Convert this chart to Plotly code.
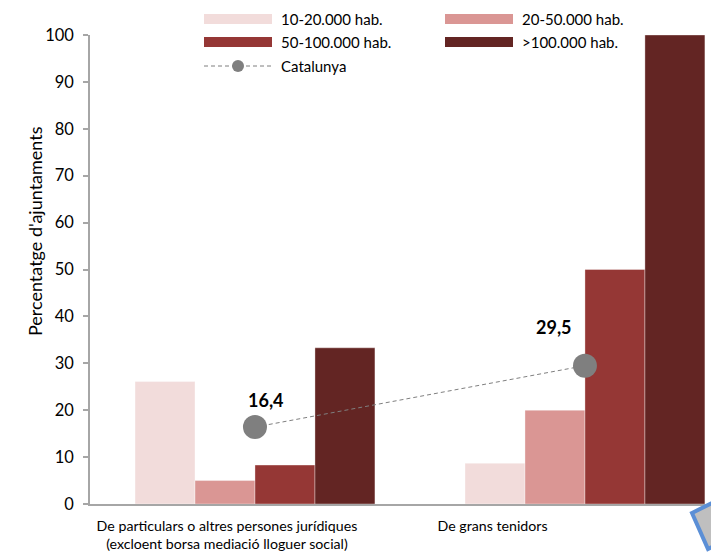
import plotly.graph_objects as go

categories = ["De particulars o altres persones jurídiques<br>(excloent borsa mediació lloguer social)",
              "De grans tenidors"]
series_names = ["10-20.000 hab.", "20-50.000 hab.", "50-100.000 hab.", ">100.000 hab."]
series_values = [
    [26.1, 8.7],
    [5.0, 20.0],
    [8.3, 50.0],
    [33.3, 100.0],
]
colors = ["#F2DCDB", "#DA9694", "#953735", "#632523"]
catalunya = [16.4, 29.5]
catalunya_labels = ["16,4", "29,5"]

FONT = "Lato"
W, H = 711, 560
ML, MR, MT, MB = 90, 0, 35, 56
PW, PH = W - ML - MR, H - MT - MB

def px(p):
    return (p - ML) / PW

def py(p):
    return (H - MB - p) / PH

xpos = list(range(len(categories)))

fig = go.Figure()
for name, vals, col in zip(series_names, series_values, colors):
    fig.add_trace(go.Bar(
        x=xpos, y=vals, name=name,
        marker=dict(color=col, line=dict(color="rgba(255,255,255,0.35)", width=1)),
        showlegend=False,
    ))

fig.add_trace(go.Scatter(
    x=xpos, y=catalunya, name="Catalunya", mode="lines+markers",
    line=dict(color="#7F7F7F", width=1, dash="4px,3px"),
    marker=dict(color="#7F7F7F", size=24),
    showlegend=False,
))

annotations = []
label_shift = [(11, 27), (-31, 39)]
for xi, v, t, (dx, dy) in zip(xpos, catalunya, catalunya_labels, label_shift):
    annotations.append(dict(x=xi, y=v, xref="x", yref="y", text="<b>%s</b>" % t,
                            showarrow=False, xshift=dx, yshift=dy,
                            font=dict(family=FONT, size=18, color="#000000")))

# y-axis title
annotations.append(dict(x=px(22), y=py(231), xref="paper", yref="paper",
                        text="Percentatge d'ajuntaments", textangle=-90, showarrow=False,
                        font=dict(family=FONT, size=18, color="#000000")))

# custom legend
shapes = []
legend_rows = [(19, 0), (19, 1), (42, 0), (42, 1)]
for (ry, col_i), name, col in zip(legend_rows, series_names, colors):
    x0 = 204 if col_i == 0 else 445
    shapes.append(dict(type="rect", xref="paper", yref="paper",
                       x0=px(x0), x1=px(x0 + 68), y0=py(ry - 5), y1=py(ry + 5),
                       fillcolor=col, line=dict(width=0)))
    annotations.append(dict(x=px(x0 + 75), y=py(ry), xref="paper", yref="paper",
                            text=name, showarrow=False, xanchor="left", yanchor="middle",
                            font=dict(family=FONT, size=15, color="#000000")))
shapes.append(dict(type="line", xref="paper", yref="paper",
                   x0=px(204), x1=px(272), y0=py(66), y1=py(66),
                   line=dict(color="#7F7F7F", width=1, dash="4px,3px")))
shapes.append(dict(type="circle", xref="paper", yref="paper",
                   x0=px(232), x1=px(244), y0=py(72), y1=py(60),
                   fillcolor="#7F7F7F", line=dict(width=0)))
annotations.append(dict(x=px(279), y=py(66), xref="paper", yref="paper",
                        text="Catalunya", showarrow=False, xanchor="left", yanchor="middle",
                        font=dict(family=FONT, size=15, color="#000000")))

# corner callout fragment
pts = [(692, 513), (728, 495), (745, 531), (708, 549)]
path = "M " + " L ".join("%f,%f" % (px(a), py(b)) for a, b in pts) + " Z"
shapes.append(dict(type="path", xref="paper", yref="paper", path=path,
                   fillcolor="#BFBFBF", line=dict(color="#5B8FD6", width=4)))

fig.update_layout(
    width=W, height=H,
    margin=dict(l=ML, r=MR, t=MT, b=MB, autoexpand=False),
    paper_bgcolor="white", plot_bgcolor="white",
    barmode="group", bargap=0.273, bargroupgap=0,
    showlegend=False,
    annotations=annotations,
    shapes=shapes,
    font=dict(family=FONT, color="#000000"),
)
fig.update_xaxes(
    range=[-0.5, 1.382], automargin=False,
    tickmode="array", tickvals=[-0.085, 0.72], ticktext=categories,
    showline=True, linecolor="#A6A6A6", linewidth=1.5,
    ticks="", showgrid=False, zeroline=False,
    tickfont=dict(family=FONT, size=14.2, color="#000000"),
    ticklabelstandoff=8,
)
fig.update_yaxes(
    range=[0, 100], dtick=10, automargin=False,
    showline=True, linecolor="#A6A6A6", linewidth=1.5,
    ticks="outside", ticklen=5, tickcolor="#A6A6A6", tickwidth=1.5,
    showgrid=False, zeroline=False,
    tickfont=dict(family=FONT, size=16.5, color="#000000"),
    ticklabelstandoff=6,
)

fig.write_html("out.html", config={"displayModeBar": False},
               post_script="document.body.style.margin='0';")
